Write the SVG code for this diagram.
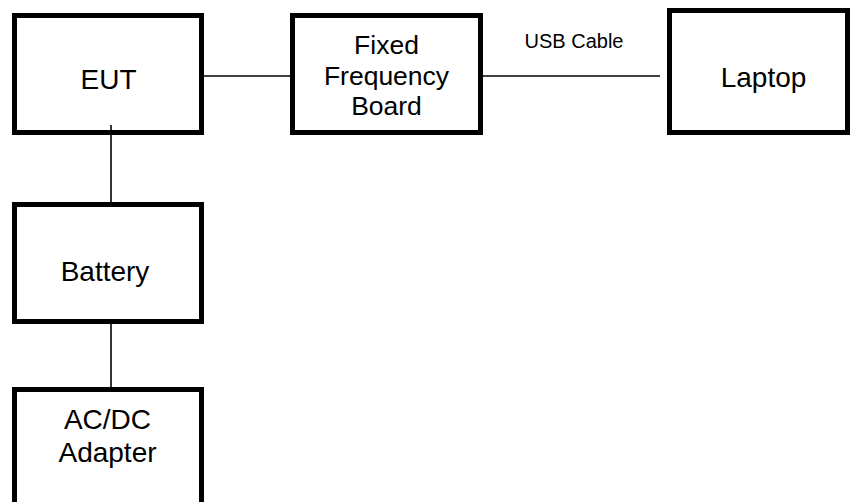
<svg xmlns="http://www.w3.org/2000/svg" width="850" height="502" viewBox="0 0 850 502">
<style>
.box{fill:#fff;stroke:#000;stroke-width:5}
.t{font-family:"Liberation Sans",Arial,sans-serif;font-size:28px;fill:#000;text-anchor:middle}
.f{font-size:26.5px}
.s{font-family:"Liberation Sans",Arial,sans-serif;font-size:20px;fill:#000;text-anchor:middle}
.c{stroke:#000;stroke-width:1.6;fill:none}
</style>
<rect width="850" height="502" fill="#fff"/>
<g id="connectors">
<line class="c" x1="204" y1="76" x2="290" y2="76"/>
<line class="c" x1="483" y1="76" x2="660" y2="76"/>
<line class="c" x1="111" y1="125" x2="111" y2="202"/>
<line class="c" x1="111" y1="324" x2="111" y2="387"/>
</g>
<g id="eut">
<rect class="box" x="14.5" y="15.5" width="187" height="117"/>
<text class="t" x="108.5" y="89">EUT</text>
</g>
<g id="board">
<rect class="box" x="292.5" y="15.5" width="188" height="117"/>
<text class="t f" x="386.5" y="54">Fixed</text>
<text class="t f" x="386.5" y="84.5">Frequency</text>
<text class="t f" x="386.5" y="115">Board</text>
</g>
<text class="s" x="574" y="48">USB Cable</text>
<g id="laptop">
<rect class="box" x="669.5" y="10.5" width="178" height="122"/>
<text class="t" x="763.5" y="87">Laptop</text>
</g>
<g id="battery">
<rect class="box" x="14.5" y="204.5" width="187" height="117"/>
<text class="t" x="105" y="281">Battery</text>
</g>
<g id="adapter">
<rect class="box" x="14.5" y="389.5" width="187" height="125"/>
<text class="t" x="107.5" y="429">AC/DC</text>
<text class="t" x="107.5" y="462">Adapter</text>
</g>
<line class="c" x1="111" y1="125" x2="111" y2="135"/>
</svg>
